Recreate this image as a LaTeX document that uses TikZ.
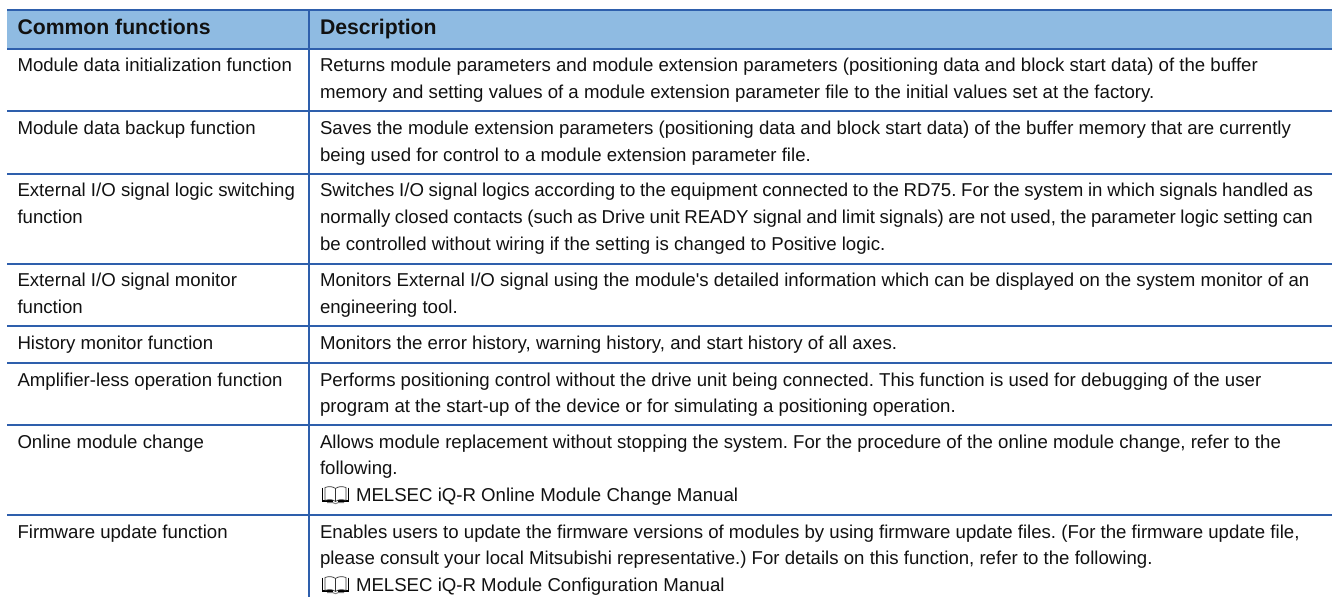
\documentclass[tikz,border=0pt]{standalone}
\usepackage{fontspec}
\setmainfont{Liberation Sans}
\newfontfamily\plainface{Liberation Sans}
\frenchspacing
\definecolor{rulec}{HTML}{2E5FAC}
\definecolor{headc}{HTML}{8FBBE2}
\definecolor{textc}{HTML}{111111}
\newcommand{\celltext}[1]{\begin{tabular}[t]{@{}l@{}}#1\end{tabular}}
\tikzset{
  x=1pt,y=-1pt,
  rulel/.style={draw=rulec,line width=1.6pt},
  cell/.style={anchor=base west,inner sep=0pt,outer sep=0pt,text=textc,font=\fontsize{18.63}{26.7}\selectfont},
  head/.style={cell,font=\fontsize{21.2}{26.7}\selectfont\bfseries},
  bookline/.style={draw=black!80,line width=0.7pt,line join=round},
  bookouter/.style={draw=black,line width=1.5pt,line join=miter},
  bookicon/.pic={
    \draw[bookouter] (0.5,-14) -- (0.5,-0.5) -- (11,-0.5);
    \draw[bookouter] (26.5,-14) -- (26.5,-0.5) -- (16,-0.5);
    \draw[bookline] (3,-1) -- (3,-14) .. controls (7,-15.5) and (11,-15) .. (13.5,-13) -- (13.5,0)
      .. controls (11,-2) and (7,-2.5) .. (3,-1);
    \draw[bookline] (24,-1) -- (24,-14) .. controls (20,-15.5) and (16,-15) .. (13.5,-13)
      (13.5,0) .. controls (16,-2) and (20,-2.5) .. (24,-1);
    \draw[draw=black!50,line width=1pt] (5,1.2) -- (11,1.2) -- (13.5,2.2) -- (16,1.2) -- (22,1.2);
  }
}
\begin{document}
\begin{tikzpicture}
\useasboundingbox (0,0) rectangle (1332,597);
\fill[headc] (7,10) rectangle (1332,49);
% horizontal rules
\foreach \yy in {10,49,111,174,264,325.7,362.7,425,515}
  \draw[rulel] (7,\yy) -- (1332,\yy);
\draw[rulel] (309,10) -- (309,597);
% header
\node[head] (h1) at (17.5,34.5) {Common functions};
\node[head] (h2) at (320,34.5) {Description};
% left column
\node[cell] (a1) at (17.5,71.7) {Module data initialization function};
\node[cell] (a2) at (17.5,134.5) {Module data backup function};
\node[cell] (a3) at (17.5,196.7) {\celltext{External I/O signal logic switching\\function}};
\node[cell] (a4) at (17.5,286.7) {\celltext{External I/O signal monitor\\function}};
\node[cell] (a5) at (17.5,349) {History monitor function};
\node[cell] (a6) at (17.5,386) {Amplifier-less operation function};
\node[cell] (a7) at (17.5,448) {Online module change};
\node[cell] (a8) at (17.5,538) {Firmware update function};
% right column
\node[cell] (b1) at (320,71.7) {\celltext{Returns module parameters and module extension parameters (positioning data and block start data) of the buffer\\memory and setting values of a module extension parameter file to the initial values set at the factory.}};
\node[cell] (b2) at (320,134.5) {\celltext{Saves the module extension parameters (positioning data and block start data) of the buffer memory that are currently\\being used for control to a module extension parameter file.}};
\node[cell] (b3) at (320,196.7) {\celltext{\makebox[993pt][s]{Switches I/O signal logics according to the equipment connected to the RD75. For the system in which signals handled as}\\\makebox[993pt][s]{normally closed contacts (such as Drive unit READY signal and limit signals) are not used, the parameter logic setting can}\\be controlled without wiring if the setting is changed to Positive logic.}};
\node[cell] (b4) at (320,286.7) {\celltext{Monitors External I/O signal using the module{\plainface\symbol{39}}s detailed information which can be displayed on the system monitor of an\\engineering tool.}};
\node[cell] (b5) at (320,349) {Monitors the error history, warning history, and start history of all axes.};
\node[cell] (b6) at (320,386) {\celltext{Performs positioning control without the drive unit being connected. This function is used for debugging of the user\\program at the start-up of the device or for simulating a positioning operation.}};
\node[cell] (b7) at (320,448) {\celltext{Allows module replacement without stopping the system. For the procedure of the online module change, refer to the\\following.\\\hspace{36pt}MELSEC iQ-R Online Module Change Manual}};
\node[cell] (b8) at (320,538) {\celltext{Enables users to update the firmware versions of modules by using firmware update files. (For the firmware update file,\\please consult your local Mitsubishi representative.) For details on this function, refer to the following.\\\hspace{36pt}MELSEC iQ-R Module Configuration Manual}};
\pic at (322,501.5) {bookicon};
\pic at (322,591.5) {bookicon};
\end{tikzpicture}
\end{document}
